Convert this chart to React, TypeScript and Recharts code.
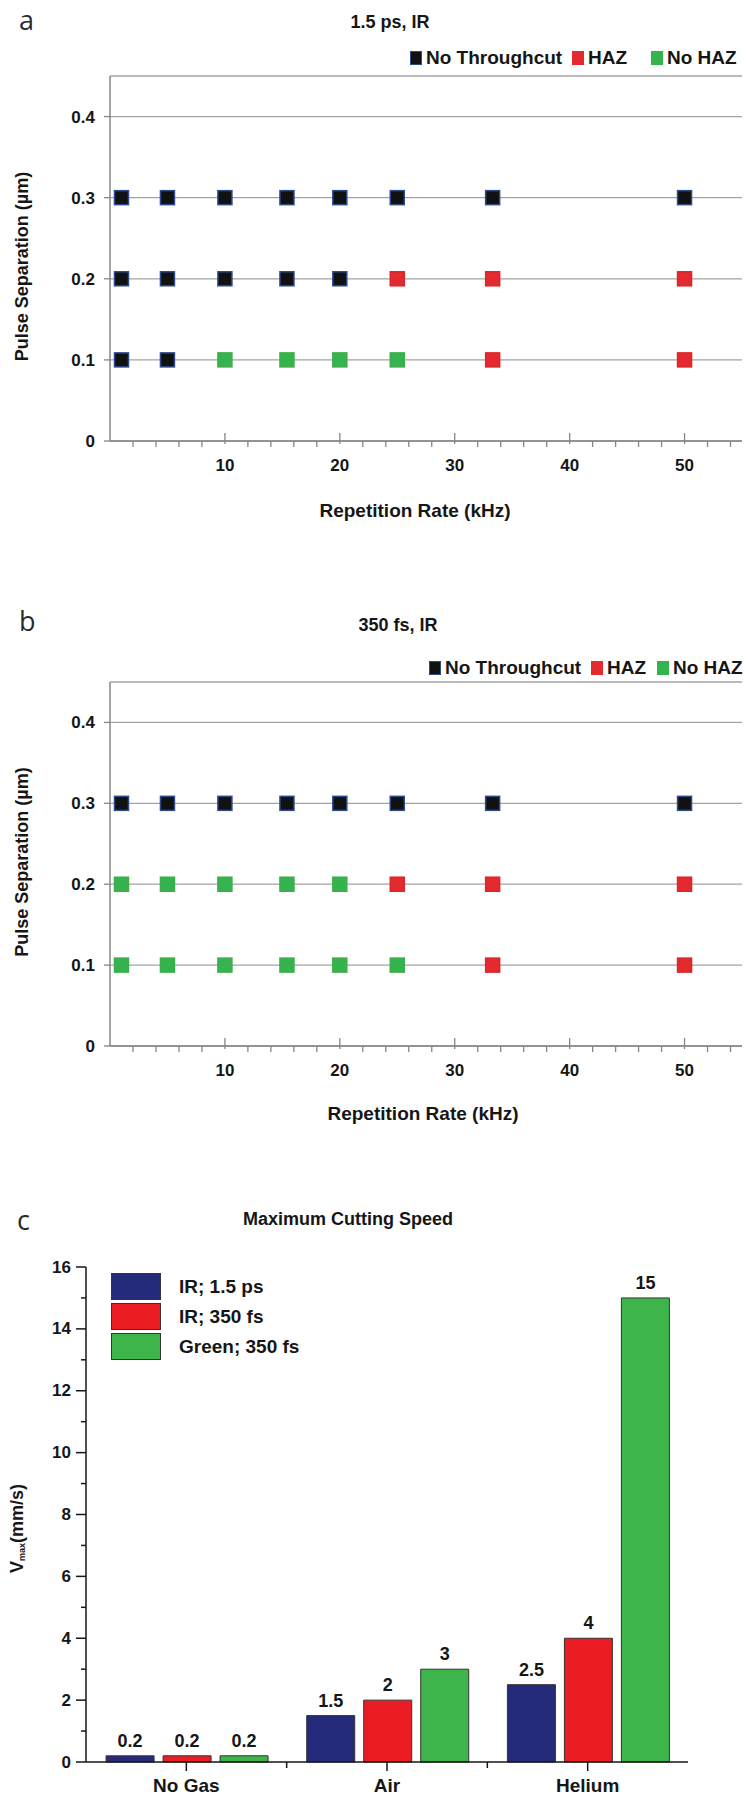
import React from 'react';
import {
  Bar,
  BarChart,
  CartesianGrid,
  Label,
  LabelList,
  Scatter,
  ScatterChart,
  XAxis,
  YAxis
} from 'recharts';

const FONT = "'Liberation Sans', Arial, Helvetica, sans-serif";
const LETTER_FONT = "'Open Sans', 'Liberation Sans', sans-serif";
const INK = '#161616';
const GRID = '#a3a3a3';
const FRAME = '#868686';

const NONE = '#111111';
const NONE_EDGE = '#2c4a8c';
const HAZ = '#e52a2f';
const CLEAN = '#34b34e';

const NAVY = '#262a7a';
const RED = '#ec1c24';
const GREEN = '#3db54a';

// panels a + b: repetition rate (kHz) vs pulse separation (um)
const rates = [1, 5, 10, 15.4, 20, 25, 33.3, 50];
const separations = [0.1, 0.2, 0.3];
const rateTicks = [0, 2, 4, 6, 8, 10, 12, 14, 16, 18, 20, 22, 24, 26, 28, 30, 32, 34, 36, 38, 40, 42, 44, 46, 48, 50, 52, 54];
const sepTicks = [0, 0.1, 0.2, 0.3, 0.4];

// n = no throughcut, h = HAZ, g = no HAZ (one entry per rate)
const ps15At01 = ['n', 'n', 'g', 'g', 'g', 'g', 'h', 'h'];
const ps15At02 = ['n', 'n', 'n', 'n', 'n', 'h', 'h', 'h'];
const ps15At03 = ['n', 'n', 'n', 'n', 'n', 'n', 'n', 'n'];
const fs350At01 = ['g', 'g', 'g', 'g', 'g', 'g', 'h', 'h'];
const fs350At02 = ['g', 'g', 'g', 'g', 'g', 'h', 'h', 'h'];
const fs350At03 = ['n', 'n', 'n', 'n', 'n', 'n', 'n', 'n'];

// panel c: maximum cutting speed (mm/s)
const gases = ['No Gas', 'Air', 'Helium'];
const irPs = [0.2, 1.5, 2.5];
const irFs = [0.2, 2, 4];
const greenFs = [0.2, 3, 15];
const speedTicks = [0, 1, 2, 3, 4, 5, 6, 7, 8, 9, 10, 11, 12, 13, 14, 15, 16];

const barData = gases.map((gas, i) => ({ gas, irPs: irPs[i], irFs: irFs[i], greenFs: greenFs[i] }));

function pointsFor(rows: string[][], code: string) {
  return rows.flatMap((row, i) =>
    row.map((s, j) => ({ rate: rates[j], sep: separations[i], s })).filter((p) => p.s === code)
  );
}

const square = (fill: string, edge: string) => (props: any) => (
  <rect x={props.cx - 7} y={props.cy - 7} width={14} height={14} fill={fill} stroke={edge} strokeWidth={1.5} />
);

function RateTick(props: any) {
  const { x, y, payload } = props;
  const v = payload.value;
  const major = v % 10 === 0;
  if (v === 0) return <g />;
  return (
    <g>
      {major ? (
        <line x1={x} x2={x} y1={y - 8} y2={y + 3} stroke={FRAME} strokeWidth={1.3} />
      ) : (
        <line x1={x} x2={x} y1={y} y2={y + 6} stroke={FRAME} strokeWidth={1.3} />
      )}
      {major && (
        <text x={x} y={y + 30} textAnchor="middle" fill={INK} fontSize={17} fontWeight="bold" fontFamily={FONT}>
          {v}
        </text>
      )}
    </g>
  );
}

function Title({ x, y, children }: { x: number; y: number; children: React.ReactNode }) {
  return (
    <div
      style={{
        position: 'absolute',
        left: x,
        top: y - 11,
        transform: 'translateX(-50%)',
        font: `bold 18px ${FONT}`,
        lineHeight: '22px',
        color: INK,
        whiteSpace: 'nowrap'
      }}
    >
      {children}
    </div>
  );
}

function PanelLetter({ x, y, children }: { x: number; y: number; children: React.ReactNode }) {
  return (
    <div
      style={{
        position: 'absolute',
        left: x,
        top: y - 19,
        font: `27px ${LETTER_FONT}`,
        lineHeight: '34px',
        color: '#2a2a2a'
      }}
    >
      {children}
    </div>
  );
}

function StatusLegend({ y, lefts }: { y: number; lefts: number[] }) {
  const items: [string, string, string][] = [
    ['No Throughcut', NONE, NONE_EDGE],
    ['HAZ', HAZ, HAZ],
    ['No HAZ', CLEAN, CLEAN]
  ];
  return (
    <>
      {items.map(([name, fill, edge], i) => (
        <div
          key={name}
          style={{ position: 'absolute', top: y - 11, left: lefts[i], display: 'flex', alignItems: 'center', height: 22 }}
        >
          <span
            style={{
              display: 'inline-block',
              width: 12,
              height: 14,
              background: fill,
              border: `1px solid ${edge}`,
              boxSizing: 'border-box',
              marginRight: 4
            }}
          />
          <span style={{ font: `bold 19px ${FONT}`, color: INK, lineHeight: '22px', whiteSpace: 'nowrap' }}>{name}</span>
        </div>
      ))}
    </>
  );
}

interface SeparationPanelProps {
  top: number;
  height: number;
  plotTop: number;
  rows: string[][];
  xLabelDx: number;
  xLabelDy: number;
  yLabelDy: number;
}

function SeparationPanel({ top, height, plotTop, rows, xLabelDx, xLabelDy, yLabelDy }: SeparationPanelProps) {
  return (
    <div style={{ position: 'absolute', left: 0, top }}>
      <ScatterChart width={748} height={height} margin={{ top: plotTop, right: 6, bottom: 0, left: 10 }}>
        <CartesianGrid vertical={false} stroke={GRID} strokeWidth={1.3} />
        <XAxis
          type="number"
          dataKey="rate"
          domain={[0, 55]}
          ticks={rateTicks}
          interval={0}
          height={89}
          tickSize={0}
          tickMargin={0}
          tickLine={false}
          tick={(p: any) => <RateTick {...p} />}
          axisLine={{ stroke: FRAME, strokeWidth: 1.5 }}
        >
          <Label
            content={(p: any) => {
              const vb = p.viewBox;
              return (
                <text
                  x={vb.x + vb.width / 2 + xLabelDx}
                  y={vb.y + xLabelDy}
                  textAnchor="middle"
                  dominantBaseline="central"
                  fill={INK}
                  fontSize={19}
                  fontWeight="bold"
                  fontFamily={FONT}
                >
                  Repetition Rate (kHz)
                </text>
              );
            }}
          />
        </XAxis>
        <XAxis
          xAxisId="top"
          orientation="top"
          type="number"
          domain={[0, 55]}
          height={0}
          tick={false}
          tickLine={false}
          axisLine={{ stroke: FRAME, strokeWidth: 1.5 }}
        />
        <YAxis
          type="number"
          dataKey="sep"
          domain={[0, 0.45]}
          ticks={sepTicks}
          interval={0}
          width={100}
          tickSize={6}
          tickMargin={9}
          tickLine={{ stroke: FRAME, strokeWidth: 1.3 }}
          axisLine={{ stroke: FRAME, strokeWidth: 1.5 }}
          tick={{ fill: INK, fontSize: 17, fontWeight: 'bold', fontFamily: FONT }}
        >
          <Label
            content={(p: any) => {
              const vb = p.viewBox;
              const cx = vb.x + 12;
              const cy = vb.y + vb.height / 2 + yLabelDy;
              return (
                <text
                  x={cx}
                  y={cy}
                  transform={`rotate(-90 ${cx} ${cy})`}
                  textAnchor="middle"
                  dominantBaseline="central"
                  fill={INK}
                  fontSize={18}
                  fontWeight="bold"
                  fontFamily={FONT}
                >
                  Pulse Separation (µm)
                </text>
              );
            }}
          />
        </YAxis>
        <YAxis
          yAxisId="right"
          orientation="right"
          type="number"
          domain={[0, 0.45]}
          width={0}
          tick={false}
          tickLine={false}
          axisLine={{ stroke: FRAME, strokeWidth: 1.5 }}
        />
        <Scatter name="No Throughcut" data={pointsFor(rows, 'n')} shape={square(NONE, NONE_EDGE)} isAnimationActive={false} />
        <Scatter name="HAZ" data={pointsFor(rows, 'h')} shape={square(HAZ, '#d8262b')} isAnimationActive={false} />
        <Scatter name="No HAZ" data={pointsFor(rows, 'g')} shape={square(CLEAN, '#3fae4a')} isAnimationActive={false} />
      </ScatterChart>
    </div>
  );
}

function GasTick(props: any) {
  const { x, y, payload, index } = props;
  const half = payload.offset ?? 100;
  return (
    <g>
      <line x1={x} x2={x} y1={y} y2={y + 9} stroke={INK} strokeWidth={1.5} />
      {index < gases.length - 1 && (
        <line x1={x + half} x2={x + half} y1={y} y2={y + 6} stroke={INK} strokeWidth={1.5} />
      )}
      <text x={x} y={y + 30} textAnchor="middle" fill={INK} fontSize={19} fontWeight="bold" fontFamily={FONT}>
        {payload.value}
      </text>
    </g>
  );
}

function TopGasTick(props: any) {
  const { x, y, payload, index } = props;
  const half = payload.offset ?? 100;
  if (index >= gases.length - 1) return <g />;
  return <line x1={x + half} x2={x + half} y1={y} y2={y + 6} stroke={INK} strokeWidth={1.5} />;
}

function SpeedTick(props: any) {
  const { x, y, payload } = props;
  const v = payload.value;
  const major = v % 2 === 0;
  return (
    <g>
      <line x1={x - (major ? 10 : 5)} x2={x} y1={y} y2={y} stroke={INK} strokeWidth={1.5} />
      {major && (
        <text
          x={x - 15}
          y={y}
          textAnchor="end"
          dominantBaseline="central"
          fill={INK}
          fontSize={17}
          fontWeight="bold"
          fontFamily={FONT}
        >
          {v}
        </text>
      )}
    </g>
  );
}

const valueLabel = { fill: INK, fontSize: 18, fontWeight: 'bold', fontFamily: FONT };

function SpeedLegend() {
  const items: [string, string][] = [
    ['IR; 1.5 ps', NAVY],
    ['IR; 350 fs', RED],
    ['Green; 350 fs', GREEN]
  ];
  return (
    <div style={{ position: 'absolute', left: 111, top: 1273 }}>
      {items.map(([name, color]) => (
        <div key={name} style={{ display: 'flex', alignItems: 'center', height: 27, marginBottom: 3 }}>
          <span
            style={{
              display: 'inline-block',
              width: 50,
              height: 27,
              background: color,
              border: '1px solid #333',
              boxSizing: 'border-box',
              marginRight: 18
            }}
          />
          <span style={{ font: `bold 19px ${FONT}`, color: INK, whiteSpace: 'nowrap' }}>{name}</span>
        </div>
      ))}
    </div>
  );
}

function SpeedPanel() {
  return (
    <div style={{ position: 'absolute', left: 0, top: 1180 }}>
      <BarChart
        width={748}
        height={618}
        data={barData}
        margin={{ top: 87, right: 60, bottom: 0, left: 0 }}
        barCategoryGap="10%"
        barGap={9}
      >
        <XAxis
          dataKey="gas"
          height={36}
          tickSize={0}
          tickMargin={0}
          tickLine={false}
          interval={0}
          tick={(p: any) => <GasTick {...p} />}
          axisLine={{ stroke: INK, strokeWidth: 1.5 }}
        />
        <XAxis
          xAxisId="top"
          orientation="top"
          dataKey="gas"
          height={0}
          tickSize={0}
          tickMargin={0}
          tickLine={false}
          interval={0}
          tick={(p: any) => <TopGasTick {...p} />}
          axisLine={{ stroke: INK, strokeWidth: 1.5 }}
        />
        <YAxis
          type="number"
          domain={[0, 16]}
          ticks={speedTicks}
          interval={0}
          width={86}
          tickSize={0}
          tickMargin={0}
          tickLine={false}
          tick={(p: any) => <SpeedTick {...p} />}
          axisLine={{ stroke: INK, strokeWidth: 1.5 }}
        >
          <Label
            content={(p: any) => {
              const vb = p.viewBox;
              const cx = vb.x + 17;
              const cy = vb.y + vb.height / 2 + 14;
              return (
                <text
                  x={cx}
                  y={cy}
                  transform={`rotate(-90 ${cx} ${cy})`}
                  textAnchor="middle"
                  dominantBaseline="central"
                  fill={INK}
                  fontSize={18}
                  fontWeight="bold"
                  fontFamily={FONT}
                >
                  <tspan>V</tspan>
                  <tspan fontSize={9} dy={5}>max</tspan>
                  <tspan dy={-5}>(mm/s)</tspan>
                </text>
              );
            }}
          />
        </YAxis>
        <YAxis
          yAxisId="right"
          orientation="right"
          type="number"
          domain={[0, 16]}
          width={0}
          tick={false}
          tickLine={false}
          axisLine={{ stroke: INK, strokeWidth: 1.5 }}
        />
        <Bar dataKey="irPs" fill={NAVY} stroke="#333" strokeWidth={1} isAnimationActive={false}>
          <LabelList dataKey="irPs" position="top" offset={9} style={valueLabel} />
        </Bar>
        <Bar dataKey="irFs" fill={RED} stroke="#333" strokeWidth={1} isAnimationActive={false}>
          <LabelList dataKey="irFs" position="top" offset={9} style={valueLabel} />
        </Bar>
        <Bar dataKey="greenFs" fill={GREEN} stroke="#333" strokeWidth={1} isAnimationActive={false}>
          <LabelList dataKey="greenFs" position="top" offset={9} style={valueLabel} />
        </Bar>
      </BarChart>
    </div>
  );
}

export default function App() {
  return (
    <div style={{ position: 'absolute', left: 0, top: 0, width: 748, height: 1798, background: '#fff', overflow: 'hidden' }}>
      <PanelLetter x={19} y={22}>a</PanelLetter>
      <Title x={390} y={22}>1.5 ps, IR</Title>
      <StatusLegend y={58} lefts={[410, 572, 651]} />
      <SeparationPanel
        top={0}
        height={530}
        plotTop={76}
        rows={[ps15At01, ps15At02, ps15At03]}
        xLabelDx={-11}
        xLabelDy={69}
        yLabelDy={8}
      />

      <PanelLetter x={19} y={623}>b</PanelLetter>
      <Title x={398} y={625}>350 fs, IR</Title>
      <StatusLegend y={668} lefts={[429, 591, 657]} />
      <SeparationPanel
        top={600}
        height={535}
        plotTop={82}
        rows={[fs350At01, fs350At02, fs350At03]}
        xLabelDx={-3}
        xLabelDy={67}
        yLabelDy={-2}
      />

      <PanelLetter x={17} y={1222}>c</PanelLetter>
      <Title x={348} y={1219}>Maximum Cutting Speed</Title>
      <SpeedPanel />
      <SpeedLegend />
    </div>
  );
}
